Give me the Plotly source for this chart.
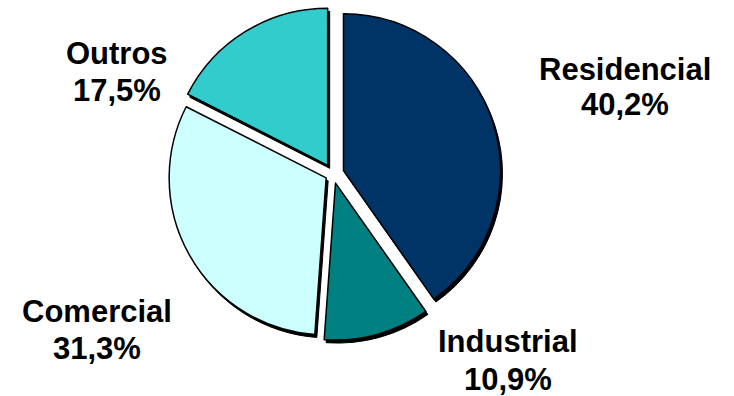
import plotly.graph_objects as go

categories = ["Residencial", "Industrial", "Comercial", "Outros"]
values = [40.2, 10.9, 31.3, 17.5]
value_labels = ["40,2%", "10,9%", "31,3%", "17,5%"]
colors = ["#003366", "#008080", "#CCFFFF", "#33CCCC"]
pulls = [0.07, 0.06, 0.05, 0.065]

W, H = 734, 396
cx, cy, half = 333, 174, 168  # pie box center/half-size in px

def dom(dx=0, dy=0):
    return dict(
        x=[(cx - half + dx) / W, (cx + half + dx) / W],
        y=[1 - (cy + half + dy) / H, 1 - (cy - half + dy) / H],
    )

fig = go.Figure()
# shadow
fig.add_trace(go.Pie(
    labels=categories, values=values, sort=False, direction="clockwise", rotation=0,
    pull=pulls, textinfo="none", hoverinfo="skip", showlegend=False,
    marker=dict(colors=["#000000"] * 4, line=dict(color="#000000", width=1)),
    domain=dom(2, 3),
))
fig.add_trace(go.Pie(
    labels=categories, values=values, sort=False, direction="clockwise", rotation=0,
    pull=pulls, textinfo="none", showlegend=False,
    marker=dict(colors=colors, line=dict(color="#000000", width=1.5)),
    domain=dom(),
))

# (x center, line-1 y center, line-2 y center) in px
label_pos = {
    "Residencial": (625, 69, 104),
    "Industrial": (508, 341, 379),
    "Comercial": (97, 311, 348),
    "Outros": (117, 54, 91),
}
font = dict(family="Liberation Sans, Arial, sans-serif", size=31, color="#000000", weight="bold")
for cat, lab in zip(categories, value_labels):
    px, y1, y2 = label_pos[cat]
    for txt, py in ((cat, y1), (lab, y2)):
        fig.add_annotation(
            x=px / W, y=1 - py / H, xref="paper", yref="paper",
            text=txt, showarrow=False, xanchor="center", yanchor="middle",
            font=font,
        )

fig.update_layout(
    width=W, height=H, margin=dict(l=0, r=0, t=0, b=0),
    paper_bgcolor="#ffffff", plot_bgcolor="#ffffff",
)
fig.write_html("out.html")
